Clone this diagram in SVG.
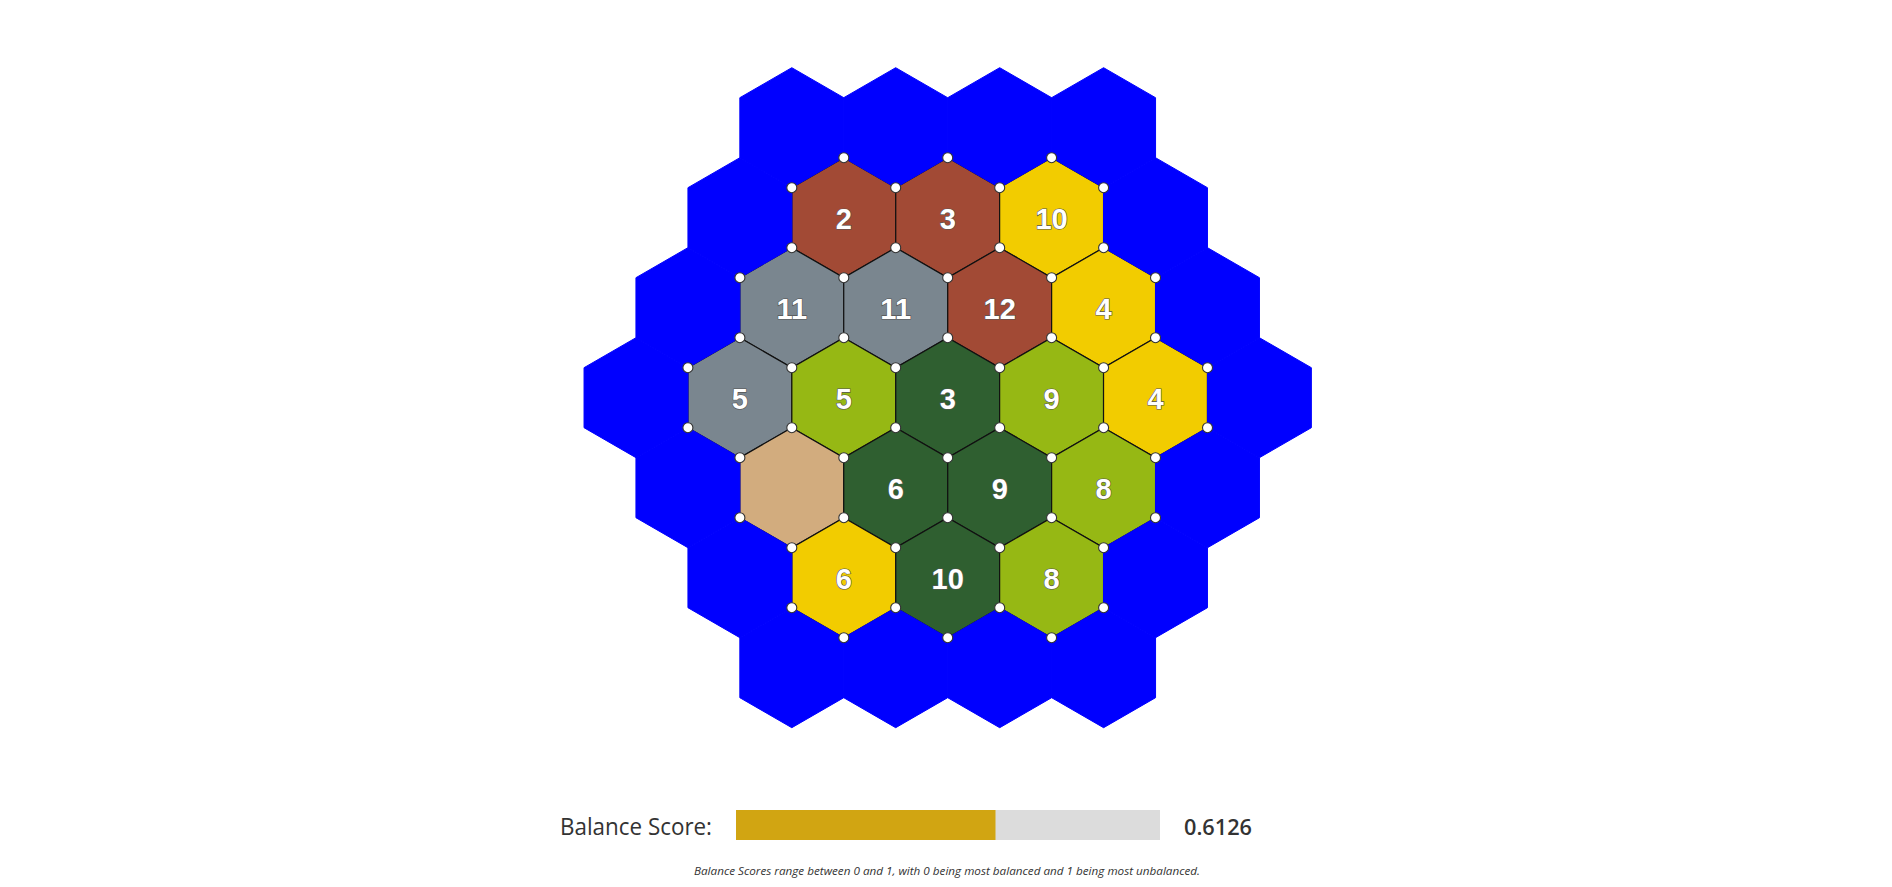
<svg xmlns="http://www.w3.org/2000/svg" xmlns:xlink="http://www.w3.org/1999/xlink" width="1892" height="887" viewBox="0 0 1892 887">
<style>
.ocean{fill:#0000FF;stroke:#0000FF;stroke-width:1}
.land{stroke:#111;stroke-width:1.2}
.brick{fill:#A24A35}
.wheat{fill:#F2CC00}
.ore{fill:#7A868F}
.sheep{fill:#96B814}
.wood{fill:#2F5F30}
.desert{fill:#D2AC7E}
.num{font-family:"Liberation Sans",Arial,sans-serif;font-size:29px;font-weight:bold;fill:#fff;stroke:#555;stroke-width:1.2;paint-order:stroke;text-anchor:middle}
.v{fill:#fff;stroke:#333;stroke-width:1.1}
.lbl{font-family:"Open Sans","Noto Sans",sans-serif;fill:#333}
</style>
<defs>
<path id="hex" d="M0,-60 L51.96,-30 L51.96,30 L0,60 L-51.96,30 L-51.96,-30 Z"/>
</defs>
<rect width="1892" height="887" fill="#fff"/>
<g id="land">
<g id="t-2-0"><use xlink:href="#hex" class="land brick" x="843.8" y="217.7"/><text class="num" x="843.8" y="228.7">2</text></g>
<g id="t-2-1"><use xlink:href="#hex" class="land brick" x="947.7" y="217.7"/><text class="num" x="947.7" y="228.7">3</text></g>
<g id="t-2-2"><use xlink:href="#hex" class="land wheat" x="1051.6" y="217.7"/><text class="num" x="1051.6" y="228.7">10</text></g>
<g id="t-1-0"><use xlink:href="#hex" class="land ore" x="791.8" y="307.7"/><text class="num" x="791.8" y="318.7">11</text></g>
<g id="t-1-1"><use xlink:href="#hex" class="land ore" x="895.7" y="307.7"/><text class="num" x="895.7" y="318.7">11</text></g>
<g id="t-1-2"><use xlink:href="#hex" class="land brick" x="999.7" y="307.7"/><text class="num" x="999.7" y="318.7">12</text></g>
<g id="t-1-3"><use xlink:href="#hex" class="land wheat" x="1103.6" y="307.7"/><text class="num" x="1103.6" y="318.7">4</text></g>
<g id="t0-0"><use xlink:href="#hex" class="land ore" x="739.9" y="397.7"/><text class="num" x="739.9" y="408.7">5</text></g>
<g id="t0-1"><use xlink:href="#hex" class="land sheep" x="843.8" y="397.7"/><text class="num" x="843.8" y="408.7">5</text></g>
<g id="t0-2"><use xlink:href="#hex" class="land wood" x="947.7" y="397.7"/><text class="num" x="947.7" y="408.7">3</text></g>
<g id="t0-3"><use xlink:href="#hex" class="land sheep" x="1051.6" y="397.7"/><text class="num" x="1051.6" y="408.7">9</text></g>
<g id="t0-4"><use xlink:href="#hex" class="land wheat" x="1155.5" y="397.7"/><text class="num" x="1155.5" y="408.7">4</text></g>
<g id="t1-0"><use xlink:href="#hex" class="land desert" x="791.8" y="487.7"/></g>
<g id="t1-1"><use xlink:href="#hex" class="land wood" x="895.7" y="487.7"/><text class="num" x="895.7" y="498.7">6</text></g>
<g id="t1-2"><use xlink:href="#hex" class="land wood" x="999.7" y="487.7"/><text class="num" x="999.7" y="498.7">9</text></g>
<g id="t1-3"><use xlink:href="#hex" class="land sheep" x="1103.6" y="487.7"/><text class="num" x="1103.6" y="498.7">8</text></g>
<g id="t2-0"><use xlink:href="#hex" class="land wheat" x="843.8" y="577.7"/><text class="num" x="843.8" y="588.7">6</text></g>
<g id="t2-1"><use xlink:href="#hex" class="land wood" x="947.7" y="577.7"/><text class="num" x="947.7" y="588.7">10</text></g>
<g id="t2-2"><use xlink:href="#hex" class="land sheep" x="1051.6" y="577.7"/><text class="num" x="1051.6" y="588.7">8</text></g>
</g>
<g id="ocean">
<use xlink:href="#hex" class="ocean" x="791.8" y="127.7"/>
<use xlink:href="#hex" class="ocean" x="895.7" y="127.7"/>
<use xlink:href="#hex" class="ocean" x="999.7" y="127.7"/>
<use xlink:href="#hex" class="ocean" x="1103.6" y="127.7"/>
<use xlink:href="#hex" class="ocean" x="739.9" y="217.7"/>
<use xlink:href="#hex" class="ocean" x="1155.5" y="217.7"/>
<use xlink:href="#hex" class="ocean" x="687.9" y="307.7"/>
<use xlink:href="#hex" class="ocean" x="1207.5" y="307.7"/>
<use xlink:href="#hex" class="ocean" x="636" y="397.7"/>
<use xlink:href="#hex" class="ocean" x="1259.4" y="397.7"/>
<use xlink:href="#hex" class="ocean" x="687.9" y="487.7"/>
<use xlink:href="#hex" class="ocean" x="1207.5" y="487.7"/>
<use xlink:href="#hex" class="ocean" x="739.9" y="577.7"/>
<use xlink:href="#hex" class="ocean" x="1155.5" y="577.7"/>
<use xlink:href="#hex" class="ocean" x="791.8" y="667.7"/>
<use xlink:href="#hex" class="ocean" x="895.7" y="667.7"/>
<use xlink:href="#hex" class="ocean" x="999.7" y="667.7"/>
<use xlink:href="#hex" class="ocean" x="1103.6" y="667.7"/>
</g>
<g id="vertices">
<circle class="v" cx="843.8" cy="157.7" r="5"/><circle class="v" cx="947.7" cy="157.7" r="5"/><circle class="v" cx="1051.6" cy="157.7" r="5"/>
<circle class="v" cx="791.8" cy="187.7" r="5"/><circle class="v" cx="895.7" cy="187.7" r="5"/><circle class="v" cx="999.7" cy="187.7" r="5"/><circle class="v" cx="1103.6" cy="187.7" r="5"/>
<circle class="v" cx="791.8" cy="247.7" r="5"/><circle class="v" cx="895.7" cy="247.7" r="5"/><circle class="v" cx="999.7" cy="247.7" r="5"/><circle class="v" cx="1103.6" cy="247.7" r="5"/>
<circle class="v" cx="739.9" cy="277.7" r="5"/><circle class="v" cx="843.8" cy="277.7" r="5"/><circle class="v" cx="947.7" cy="277.7" r="5"/><circle class="v" cx="1051.6" cy="277.7" r="5"/><circle class="v" cx="1155.5" cy="277.7" r="5"/>
<circle class="v" cx="739.9" cy="337.7" r="5"/><circle class="v" cx="843.8" cy="337.7" r="5"/><circle class="v" cx="947.7" cy="337.7" r="5"/><circle class="v" cx="1051.6" cy="337.7" r="5"/><circle class="v" cx="1155.5" cy="337.7" r="5"/>
<circle class="v" cx="687.9" cy="367.7" r="5"/><circle class="v" cx="791.8" cy="367.7" r="5"/><circle class="v" cx="895.7" cy="367.7" r="5"/><circle class="v" cx="999.7" cy="367.7" r="5"/><circle class="v" cx="1103.6" cy="367.7" r="5"/><circle class="v" cx="1207.5" cy="367.7" r="5"/>
<circle class="v" cx="687.9" cy="427.7" r="5"/><circle class="v" cx="791.8" cy="427.7" r="5"/><circle class="v" cx="895.7" cy="427.7" r="5"/><circle class="v" cx="999.7" cy="427.7" r="5"/><circle class="v" cx="1103.6" cy="427.7" r="5"/><circle class="v" cx="1207.5" cy="427.7" r="5"/>
<circle class="v" cx="739.9" cy="457.7" r="5"/><circle class="v" cx="843.8" cy="457.7" r="5"/><circle class="v" cx="947.7" cy="457.7" r="5"/><circle class="v" cx="1051.6" cy="457.7" r="5"/><circle class="v" cx="1155.5" cy="457.7" r="5"/>
<circle class="v" cx="739.9" cy="517.7" r="5"/><circle class="v" cx="843.8" cy="517.7" r="5"/><circle class="v" cx="947.7" cy="517.7" r="5"/><circle class="v" cx="1051.6" cy="517.7" r="5"/><circle class="v" cx="1155.5" cy="517.7" r="5"/>
<circle class="v" cx="791.8" cy="547.7" r="5"/><circle class="v" cx="895.7" cy="547.7" r="5"/><circle class="v" cx="999.7" cy="547.7" r="5"/><circle class="v" cx="1103.6" cy="547.7" r="5"/>
<circle class="v" cx="791.8" cy="607.7" r="5"/><circle class="v" cx="895.7" cy="607.7" r="5"/><circle class="v" cx="999.7" cy="607.7" r="5"/><circle class="v" cx="1103.6" cy="607.7" r="5"/>
<circle class="v" cx="843.8" cy="637.7" r="5"/><circle class="v" cx="947.7" cy="637.7" r="5"/><circle class="v" cx="1051.6" cy="637.7" r="5"/>
</g>
<g id="balance">
<text class="lbl" x="560" y="835" font-size="23" textLength="152" lengthAdjust="spacingAndGlyphs">Balance Score:</text>
<rect x="736" y="810" width="424" height="30" fill="#DCDCDC"/>
<rect x="736" y="810" width="259.5" height="30" fill="#D1A512"/>
<text class="lbl" x="1184" y="834.5" font-size="22" font-weight="600" textLength="68" lengthAdjust="spacingAndGlyphs">0.6126</text>
<text class="lbl" x="947" y="875" font-size="11" font-style="italic" fill="#444" text-anchor="middle" textLength="506" lengthAdjust="spacingAndGlyphs">Balance Scores range between 0 and 1, with 0 being most balanced and 1 being most unbalanced.</text>
</g>
</svg>
